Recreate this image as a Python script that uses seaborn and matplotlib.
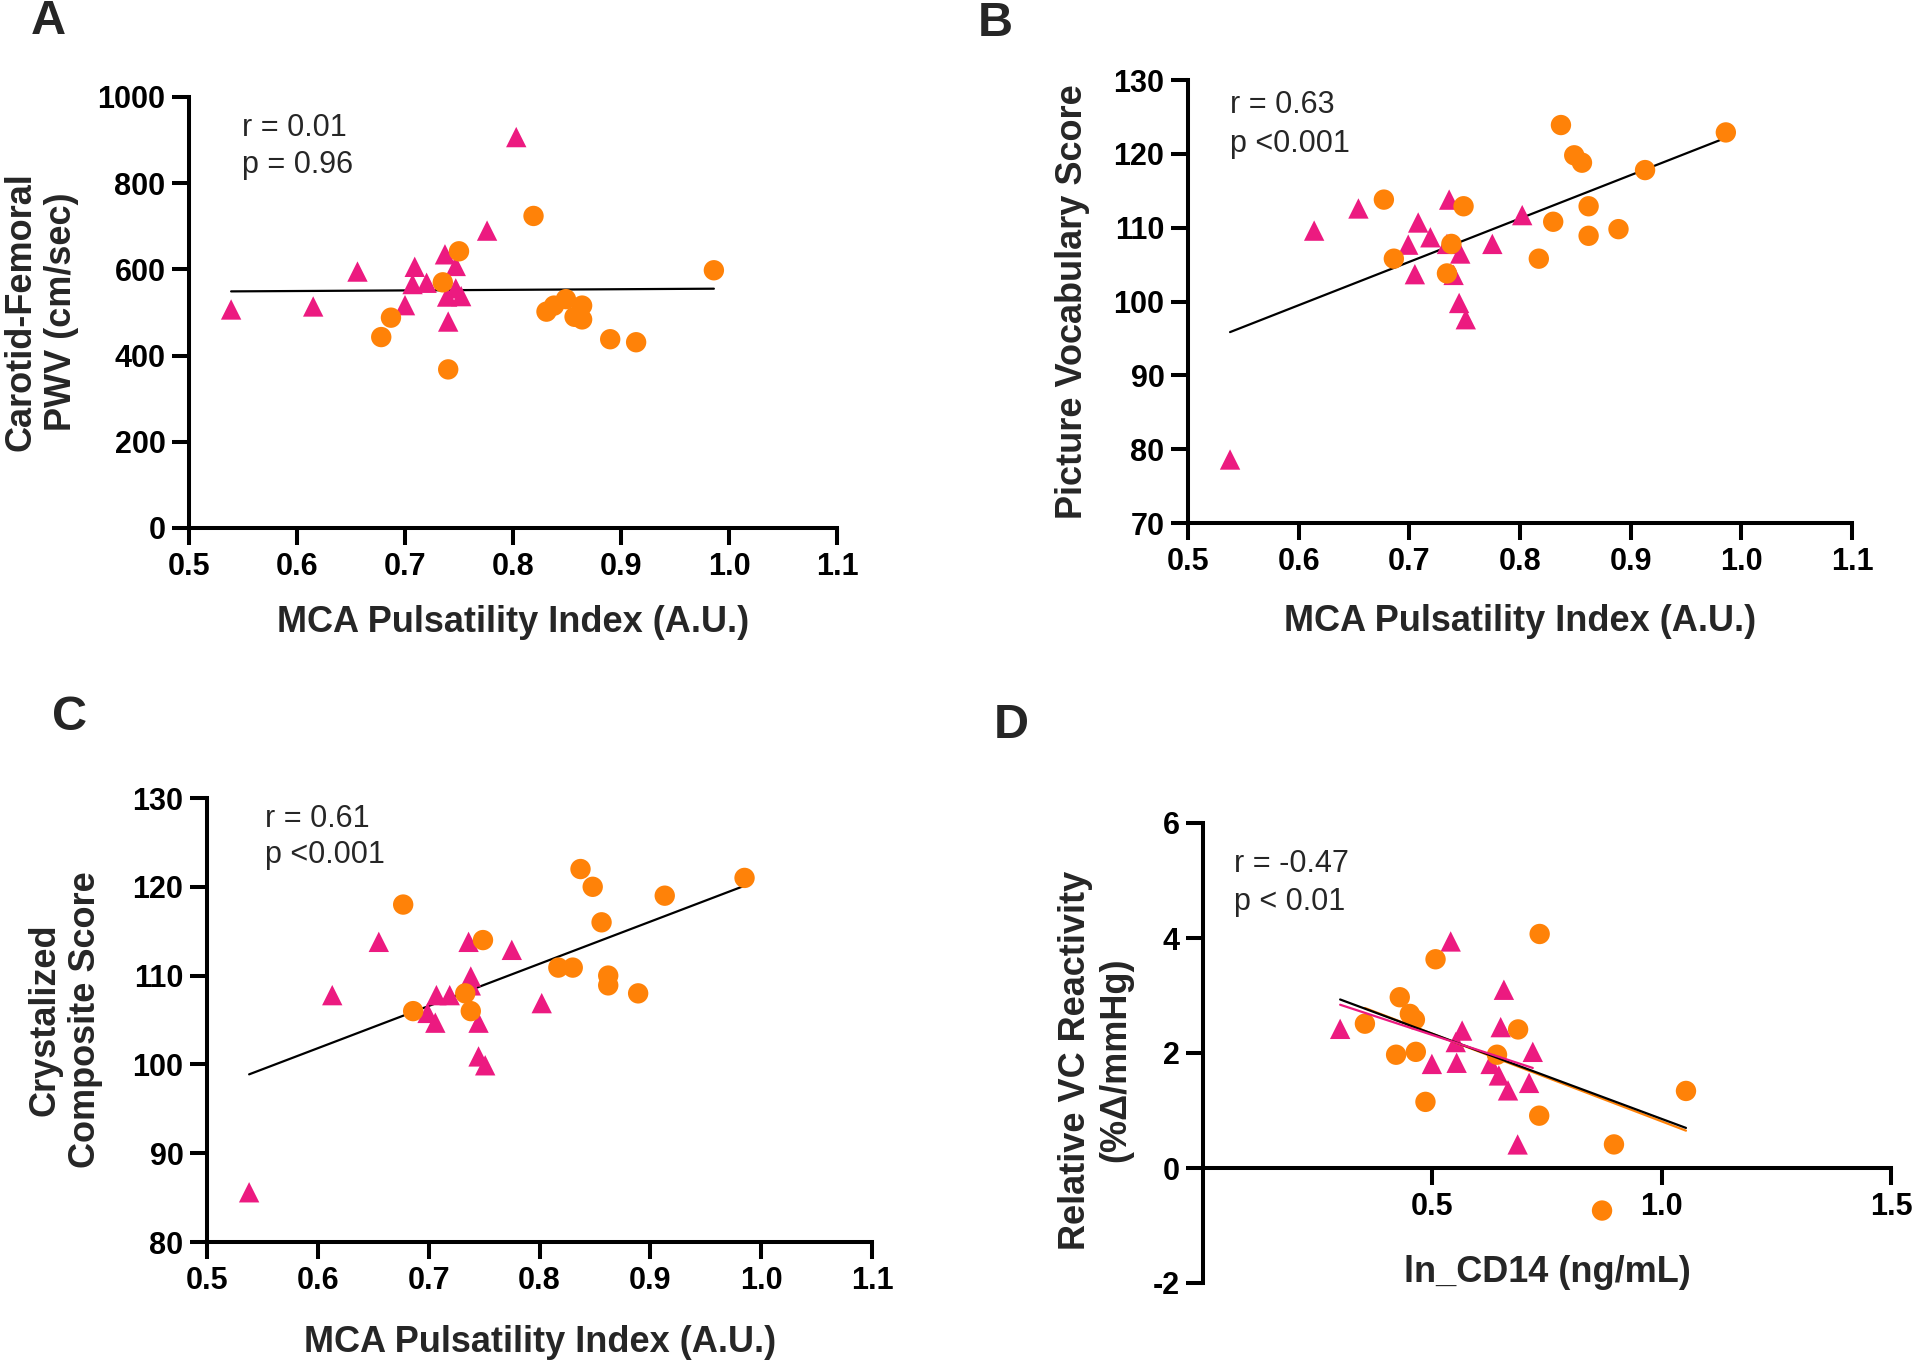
import matplotlib
matplotlib.use("Agg")
import matplotlib.pyplot as plt
import matplotlib.ticker as mticker
import pandas as pd
import seaborn as sns

W, H = 1920, 1360
MAGENTA = "#EC1A80"
ORANGE = "#FF8208"

# ---- panel A: carotid-femoral PWV vs MCA pulsatility index ----
a_tri_x = [0.539, 0.615, 0.656, 0.709, 0.707, 0.720, 0.700, 0.737, 0.747, 0.747, 0.739, 0.752, 0.740, 0.776, 0.803]
a_tri_y = [507, 514, 595, 606, 566, 569, 517, 635, 608, 556, 537, 538, 479, 690, 907]
a_dot_x = [0.819, 0.750, 0.735, 0.687, 0.678, 0.740, 0.831, 0.838, 0.849, 0.864, 0.857, 0.864, 0.890, 0.914, 0.986]
a_dot_y = [724, 642, 570, 488, 443, 368, 502, 516, 531, 516, 490, 484, 438, 431, 598]

# ---- panel B: picture vocabulary score ----
b_tri_x = [0.538, 0.614, 0.654, 0.708, 0.719, 0.699, 0.705, 0.736, 0.734, 0.746, 0.740, 0.745, 0.751, 0.775, 0.802]
b_tri_y = [78.6, 109.6, 112.6, 110.7, 108.7, 107.7, 103.7, 113.8, 107.8, 106.5, 103.6, 99.8, 97.6, 107.8, 111.7]
b_dot_x = [0.677, 0.749, 0.738, 0.686, 0.734, 0.817, 0.830, 0.837, 0.849, 0.856, 0.862, 0.862, 0.889, 0.913, 0.986]
b_dot_y = [113.8, 112.9, 107.8, 105.8, 103.8, 105.8, 110.8, 123.9, 119.8, 118.8, 112.9, 108.9, 109.8, 117.8, 122.9]

# ---- panel C: crystalized composite score ----
c_tri_x = [0.538, 0.613, 0.655, 0.707, 0.719, 0.699, 0.706, 0.736, 0.738, 0.738, 0.745, 0.745, 0.751, 0.775, 0.802]
c_tri_y = [85.6, 107.8, 113.8, 107.8, 107.8, 105.8, 104.7, 113.8, 109.9, 108.9, 104.7, 100.9, 99.9, 112.9, 106.9]
c_dot_x = [0.677, 0.749, 0.733, 0.686, 0.738, 0.817, 0.830, 0.837, 0.848, 0.856, 0.862, 0.862, 0.889, 0.913, 0.985]
c_dot_y = [118.0, 114.0, 108.0, 106.0, 106.0, 110.9, 110.9, 122.0, 120.0, 116.0, 110.0, 108.9, 108.0, 119.0, 121.0]

# ---- panel D: relative VC reactivity vs ln CD14 ----
d_tri_x = [0.299, 0.540, 0.656, 0.565, 0.649, 0.551, 0.499, 0.553, 0.627, 0.645, 0.719, 0.711, 0.665, 0.686]
d_tri_y = [2.42, 3.94, 3.10, 2.39, 2.45, 2.19, 1.81, 1.83, 1.81, 1.61, 2.02, 1.48, 1.35, 0.41]
d_dot_x = [0.353, 0.429, 0.451, 0.462, 0.421, 0.464, 0.485, 0.507, 0.687, 0.641, 0.734, 0.733, 0.896, 1.053, 0.870]
d_dot_y = [2.51, 2.97, 2.68, 2.58, 1.97, 2.02, 1.15, 3.63, 2.41, 1.97, 4.07, 0.91, 0.41, 1.34, -0.74]

stats_a = ["r = 0.01", "p = 0.96"]
stats_b = ["r = 0.63", "p <0.001"]
stats_c = ["r = 0.61", "p <0.001"]
stats_d = ["r = -0.47", "p < 0.01"]

sns.set_theme(style="ticks")
plt.rcParams.update({
    "font.family": ["Liberation Sans", "DejaVu Sans"],
    "axes.linewidth": 2.9,
    "xtick.major.width": 2.9,
    "ytick.major.width": 2.9,
    "xtick.major.size": 12,
    "ytick.major.size": 12,
    "xtick.color": "black",
    "ytick.color": "black",
    "axes.edgecolor": "black",
})


def px_rect(left, top, right, bottom):
    return [left / W, 1 - bottom / H, (right - left) / W, (bottom - top) / H]


def fpos(x, y):
    return x / W, 1 - y / H


def make_frame(tri_x, tri_y, dot_x, dot_y):
    return pd.DataFrame({
        "x": tri_x + dot_x,
        "y": tri_y + dot_y,
        "group": ["tri"] * len(tri_x) + ["dot"] * len(dot_x),
    })


def style_axes(ax, xlim, ylim, xticks, yticks):
    ax.set_xlim(*xlim)
    ax.set_ylim(*ylim)
    ax.set_xticks(xticks)
    ax.set_yticks(yticks)
    ax.xaxis.set_major_formatter(mticker.FormatStrFormatter("%.1f"))
    ax.yaxis.set_major_formatter(mticker.FormatStrFormatter("%d"))
    ax.tick_params(axis="both", direction="out", labelsize=22, pad=5)
    for lab in ax.get_xticklabels() + ax.get_yticklabels():
        lab.set_fontweight("bold")
    sns.despine(ax=ax)
    ax.set_xlabel("")
    ax.set_ylabel("")
    ax.grid(False)


fig = plt.figure(figsize=(W / 100, H / 100), dpi=100)

panels = [
    dict(letter="A", rect=(189, 97, 837, 528), data=(a_tri_x, a_tri_y, a_dot_x, a_dot_y),
         xlim=(0.5, 1.1), ylim=(0, 1000), xticks=[0.5, 0.6, 0.7, 0.8, 0.9, 1.0, 1.1],
         yticks=[0, 200, 400, 600, 800, 1000],
         xlabel="MCA Pulsatility Index (A.U.)", xlab_pos=(513, 623),
         ylabel="Carotid-Femoral\nPWV (cm/sec)", ylab_pos=(41, 312),
         stats=stats_a, stats_pos=(242, 136, 173), letter_pos=(48, 22)),
    dict(letter="B", rect=(1188, 80, 1852, 523), data=(b_tri_x, b_tri_y, b_dot_x, b_dot_y),
         xlim=(0.5, 1.1), ylim=(70, 130), xticks=[0.5, 0.6, 0.7, 0.8, 0.9, 1.0, 1.1],
         yticks=[70, 80, 90, 100, 110, 120, 130],
         xlabel="MCA Pulsatility Index (A.U.)", xlab_pos=(1520, 622),
         ylabel="Picture Vocabulary Score", ylab_pos=(1072, 302),
         stats=stats_b, stats_pos=(1230, 113, 152), letter_pos=(995, 23)),
    dict(letter="C", rect=(207, 798, 872, 1242), data=(c_tri_x, c_tri_y, c_dot_x, c_dot_y),
         xlim=(0.5, 1.1), ylim=(80, 130), xticks=[0.5, 0.6, 0.7, 0.8, 0.9, 1.0, 1.1],
         yticks=[80, 90, 100, 110, 120, 130],
         xlabel="MCA Pulsatility Index (A.U.)", xlab_pos=(540, 1342),
         ylabel="Crystalized\nComposite Score", ylab_pos=(65, 1020),
         stats=stats_c, stats_pos=(265, 827, 863), letter_pos=(70, 718)),
    dict(letter="D", rect=(1203, 823, 1891, 1283), data=(d_tri_x, d_tri_y, d_dot_x, d_dot_y),
         xlim=(0, 1.5), ylim=(-2, 6), xticks=[0.5, 1.0, 1.5],
         yticks=[-2, 0, 2, 4, 6],
         xlabel="ln_CD14 (ng/mL)", xlab_pos=(1547, 1272),
         ylabel="Relative VC Reactivity\n(%\u0394/mmHg)", ylab_pos=(1096, 1060),
         stats=stats_d, stats_pos=(1234, 872, 910), letter_pos=(1011, 726)),
]

for p in panels:
    ax = fig.add_axes(px_rect(*p["rect"]))
    df = make_frame(*p["data"])

    sns.scatterplot(
        data=df, x="x", y="y", hue="group", style="group",
        palette={"tri": MAGENTA, "dot": ORANGE}, markers={"tri": "^", "dot": "o"},
        s=215, linewidth=0, legend=False, ax=ax, zorder=3,
    )

    if p["letter"] == "D":
        # per-group fits plus the pooled fit
        sns.regplot(data=df[df["group"] == "dot"], x="x", y="y", scatter=False, ci=None,
                    color=ORANGE, line_kws={"lw": 1.6, "zorder": 4}, ax=ax)
        sns.regplot(data=df, x="x", y="y", scatter=False, ci=None,
                    color="black", line_kws={"lw": 1.6, "zorder": 4}, ax=ax)
        sns.regplot(data=df[df["group"] == "tri"], x="x", y="y", scatter=False, ci=None,
                    color=MAGENTA, line_kws={"lw": 1.6, "zorder": 4}, ax=ax)
        ax.spines["bottom"].set_position(("data", 0))
    else:
        sns.regplot(data=df, x="x", y="y", scatter=False, ci=None,
                    color="black", line_kws={"lw": 1.6, "zorder": 2}, ax=ax)

    style_axes(ax, p["xlim"], p["ylim"], p["xticks"], p["yticks"])

    tx, y1, y2 = p["stats_pos"]
    for line, ty in zip(p["stats"], (y1, y2)):
        fig.text(*fpos(tx, ty), line, fontsize=22, ha="left", va="baseline")

    fig.text(*fpos(*p["xlab_pos"]), p["xlabel"], fontsize=26, fontweight="bold",
             ha="center", va="center")
    fig.text(*fpos(*p["ylab_pos"]), p["ylabel"], fontsize=26, fontweight="bold",
             ha="center", va="center", rotation=90, rotation_mode="anchor",
             multialignment="center")
    fig.text(*fpos(*p["letter_pos"]), p["letter"], fontsize=35, fontweight="bold",
             ha="center", va="center")

fig.savefig("out.png", dpi=100, facecolor="white")
